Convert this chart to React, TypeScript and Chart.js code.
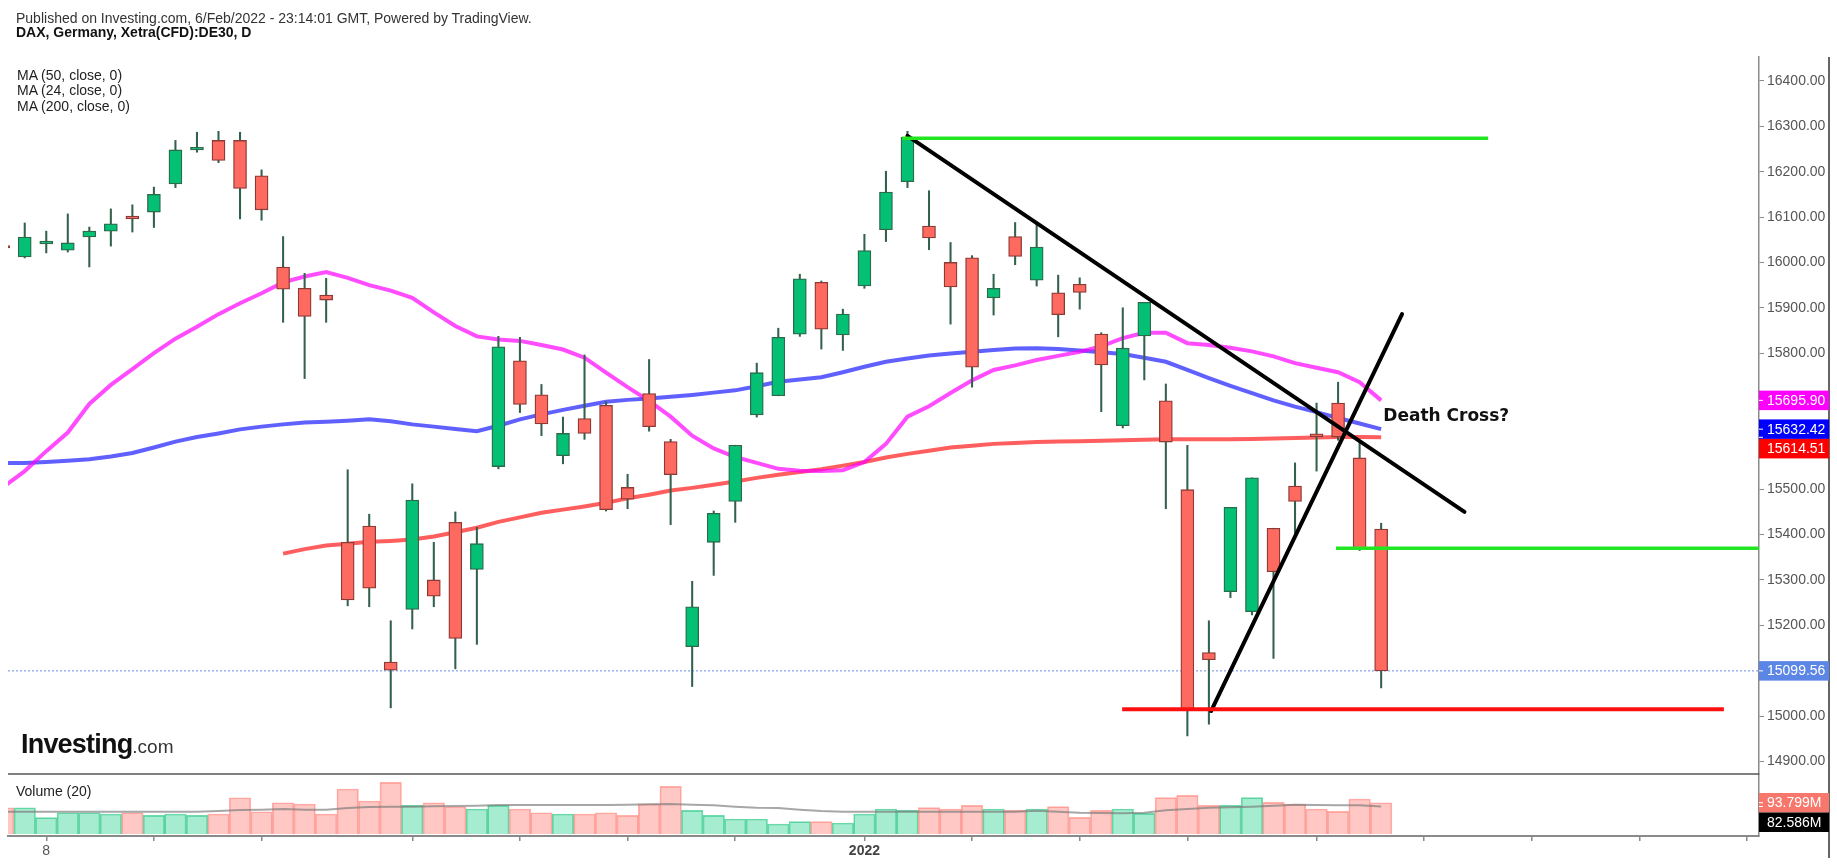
import React, { useEffect, useRef } from "react";
import { Chart, registerables } from "chart.js";

Chart.register(...registerables);

const FONT = '"Liberation Sans", Arial, sans-serif';
const W = 1837;
const H = 865;

// ---- daily candles (index 0 .. 64) ----
const OPEN = [
  16037, 16012, 16041, 16027, 16056, 16069, 16102, 16111, 16173, 16248,
  16269, 16269, 16191, 15990, 15943, 15928, 15383, 15419, 15119, 15235,
  15300, 15427, 15323, 15550, 15783, 15708, 15574, 15656, 15685, 15504,
  15711, 15605, 15153, 15383, 15473, 15664, 15706, 15842, 15956, 15840,
  15948, 16072, 16178, 16080, 16000, 16010, 15922, 16057, 15961, 15933,
  15952, 15842, 15640, 15838, 15695, 15499, 15140, 15274, 15230, 15414,
  15507, 15622, 15690, 15569, 15412,
];
const HIGH = [
  16040, 16087, 16069, 16107, 16078, 16118, 16127, 16166, 16269, 16287,
  16289, 16287, 16204, 16057, 15976, 15965, 15543, 15445, 15210, 15512,
  15383, 15450, 15416, 15837, 15835, 15731, 15659, 15796, 15693, 15533,
  15786, 15610, 15297, 15452, 15597, 15778, 15855, 15974, 15959, 15897,
  16062, 16201, 16289, 16158, 16044, 16015, 15974, 16088, 16088, 15972,
  15966, 15845, 15900, 15912, 15732, 15597, 15210, 15460, 15525, 15414,
  15558, 15690, 15736, 15604, 15425,
];
const LOW = [
  16028, 16010, 16021, 16023, 15990, 16036, 16067, 16077, 16165, 16243,
  16220, 16096, 16093, 15868, 15744, 15868, 15243, 15241, 15018, 15192,
  15241, 15104, 15158, 15545, 15669, 15618, 15556, 15610, 15452, 15457,
  15628, 15422, 15065, 15310, 15427, 15659, 15706, 15837, 15809, 15806,
  15943, 16046, 16165, 16028, 15864, 15725, 15884, 15995, 15948, 15836,
  15897, 15671, 15635, 15741, 15457, 14956, 14982, 15261, 15223, 15127,
  15403, 15540, 15608, 15365, 15062,
];
const CLOSE = [
  16032, 16056, 16047, 16043, 16069, 16085, 16096, 16150, 16248, 16254,
  16225, 16163, 16116, 15941, 15881, 15917, 15256, 15282, 15101, 15476,
  15264, 15171, 15380, 15814, 15687, 15644, 15623, 15623, 15455, 15478,
  15638, 15532, 15241, 15447, 15597, 15757, 15835, 15964, 15853, 15886,
  16026, 16155, 16276, 16054, 15946, 15769, 15943, 16013, 16034, 15885,
  15934, 15774, 15811, 15912, 15604, 15013, 15124, 15460, 15525, 15318,
  15473, 15616, 15615, 15370, 15099.56,
];

// ---- moving averages ----
const MA24 = [
  15505, 15540, 15584, 15625, 15688, 15730, 15765, 15800, 15832, 15858,
  15886, 15910, 15932, 15956, 15969, 15979, 15966, 15950, 15938, 15922,
  15890, 15860, 15837, 15830, 15827, 15818, 15808, 15790, 15757, 15725,
  15695, 15660, 15618, 15590, 15571, 15558, 15545, 15541, 15540, 15542,
  15560, 15600, 15660, 15683, 15712, 15740, 15763, 15773, 15785, 15794,
  15803, 15815, 15833, 15845, 15845, 15822, 15818, 15812, 15804, 15793,
  15778, 15768, 15758, 15736, 15695.9,
];
const MA50 = [
  15558, 15558, 15560, 15563, 15566, 15572, 15580, 15592, 15605, 15615,
  15623, 15632, 15638, 15643, 15647, 15649, 15651, 15654, 15650, 15643,
  15638, 15633, 15628, 15640, 15654, 15665, 15675, 15684, 15693, 15697,
  15700, 15704, 15708, 15713, 15718, 15727, 15737, 15742, 15747, 15758,
  15770, 15781, 15788, 15795, 15799, 15803, 15807, 15810, 15811, 15809,
  15806, 15802, 15798, 15790, 15781, 15763, 15745, 15728, 15712, 15696,
  15682, 15670, 15657, 15645, 15632.42,
];
const MA200_START = 13;
const MA200 = [
  15358, 15368, 15376, 15380, 15384, 15386, 15389, 15396, 15405, 15415,
  15428, 15438, 15448, 15455, 15462, 15470, 15480, 15488, 15497, 15503,
  15510, 15517, 15525, 15532, 15538, 15544, 15552, 15560, 15570, 15578,
  15585, 15592, 15596, 15600, 15602, 15604, 15605, 15606, 15607, 15608,
  15609, 15610, 15610, 15610, 15610, 15611, 15612, 15613, 15614, 15615,
  15615, 15614.51,
];

// ---- volume (millions) ----
const VOLUME = [
  78.8, 78.8, 48.9, 63.8, 63.8, 60, 63.8, 56, 60, 56,
  60, 108.8, 66.8, 93.8, 89.9, 60, 134.9, 98.9, 155, 86,
  93.8, 81.8, 75, 86, 75, 63.8, 60, 60, 63.8, 56,
  90, 143, 71, 56, 45, 45, 30, 37, 37, 33,
  60, 75, 71, 79, 75, 86, 75, 71, 75, 82,
  50, 71, 75, 62, 109, 116, 86, 86, 109, 95,
  90, 75, 68, 105, 93.799,
];
const VOLUME_MA = [
  66.8, 66.8, 66.8, 66.8, 66.8, 66.8, 66.8, 66.8, 66.8, 66.8,
  69, 72, 73, 75, 73, 73, 78, 81, 82, 82,
  83, 84, 85, 87, 87, 87, 87, 87, 87, 88,
  89, 90, 88, 86, 82, 79, 78, 73, 69, 67,
  67, 67, 67, 67, 67, 67, 67, 67, 70, 67,
  64, 63, 62, 64, 71, 75, 79, 80, 82, 85,
  88, 87, 86, 86, 82.586,
];

// ---- axes ----
const X_MIN = 0.223;
const X_MAX = 81.55;
const X_TICKS = [2, 7, 12, 19, 24, 29, 34, 40, 45, 50, 55, 61, 66, 71, 76, 81];
const X_TICK_LABELS: Record<number, string> = { 2: "8", 40: "2022" };
const Y_MIN = 14872.2;
const Y_MAX = 16452.9;
const Y_TICKS = [14900, 15000, 15200, 15300, 15400, 15500, 15800, 15900, 16000, 16100, 16200, 16300, 16400];
const VOL_MIN = -6;
const VOL_MAX = 180;

// ---- drawings ----
const RESIST_X = [41.75, 68.97];
const RESIST_Y = [16274, 16274];
const TREND_DOWN_X = [42.0, 67.87];
const TREND_DOWN_Y = [16279, 15450];
const TREND_UP_X = [56.1, 64.97];
const TREND_UP_Y = [15011, 15886];
const SUPPORT_G_X = [61.9, 81.55];
const SUPPORT_G_Y = [15370, 15370];
const SUPPORT_R_X = [51.97, 79.92];
const SUPPORT_R_Y = [15015, 15015];
const LAST_PRICE = 15099.56;
const NOTE_X = 64.1;
const NOTE_Y = 15661;
const NOTE_TEXT = "Death Cross?";

const PRICE_TAGS = [
  { v: 15695.9, bg: "#ff00ff" },
  { v: 15632.42, bg: "#0000ff" },
  { v: 15614.51, bg: "#ff0000" },
  { v: 15099.56, bg: "#5b86e5" },
];
const VOL_TAGS = [
  { v: 93.799, bg: "#f7776d" },
  { v: 82.586, bg: "#000000" },
];

const pts = (xs: number[], ys: number[]) => xs.map((x, i) => ({ x, y: ys[i] }));

export default function App() {
  const ref = useRef<HTMLCanvasElement>(null);

  useEffect(() => {
    const canvas = ref.current!;
    const idx = OPEN.map((_, i) => i);
    const up = idx.map((i) => CLOSE[i] >= OPEN[i]);

    const overlay = {
      id: "overlay",
      afterDraw(chart: any) {
        const { ctx, chartArea, scales } = chart;
        const y = scales.y;
        const yv = scales.yv;
        const x = scales.x;
        ctx.save();
        // pane separator
        ctx.strokeStyle = "#555";
        ctx.lineWidth = 1.5;
        ctx.beginPath();
        ctx.moveTo(chartArea.left, y.bottom);
        ctx.lineTo(chartArea.right, y.bottom);
        ctx.stroke();
        // right frame
        const frameX = chartArea.right + 70;
        ctx.strokeStyle = "#333";
        ctx.beginPath();
        ctx.moveTo(frameX, chartArea.top);
        ctx.lineTo(frameX, chartArea.bottom + 22);
        ctx.stroke();

        // annotation text
        ctx.fillStyle = "#111";
        ctx.font = 'bold 17px "DejaVu Sans", Verdana, sans-serif';
        ctx.textAlign = "left";
        ctx.textBaseline = "middle";
        ctx.fillText(NOTE_TEXT, x.getPixelForValue(NOTE_X), y.getPixelForValue(NOTE_Y));

        // axis tags
        const drawTags = (tags: { v: number; bg: string }[], scale: any, fmt: (v: number) => string) => {
          const h = 19.5;
          const list = tags
            .map((t) => ({ ...t, c: scale.getPixelForValue(t.v) }))
            .sort((a, b) => a.c - b.c);
          let prevBottom = -1e9;
          for (const t of list) {
            let top = t.c - h / 2;
            if (top < prevBottom) top = prevBottom;
            ctx.fillStyle = t.bg;
            ctx.fillRect(chartArea.right, top, 70, h);
            ctx.strokeStyle = "#fff";
            ctx.lineWidth = 1;
            ctx.beginPath();
            ctx.moveTo(chartArea.right, t.c);
            ctx.lineTo(chartArea.right + 4, t.c);
            ctx.stroke();
            ctx.fillStyle = "#fff";
            ctx.font = `14px ${FONT}`;
            ctx.textBaseline = "middle";
            ctx.fillText(fmt(t.v), chartArea.right + 8, top + h / 2 + 0.5);
            prevBottom = top + h;
          }
        };
        drawTags(PRICE_TAGS, y, (v) => v.toFixed(2));
        drawTags(VOL_TAGS, yv, (v) => v.toFixed(3) + "M");
        ctx.restore();
      },
    };

    const lineDs = (data: any[], color: string, width: number, order: number, extra: any = {}) => ({
      type: "line",
      data,
      borderColor: color,
      borderWidth: width,
      pointRadius: 0,
      tension: 0,
      fill: false,
      order,
      yAxisID: "y",
      ...extra,
    });

    const chart = new Chart(canvas, {
      type: "bar",
      data: {
        datasets: [
          // annotations on top
          lineDs(pts(RESIST_X, RESIST_Y), "#22e622", 3.5, 0),
          lineDs(pts(SUPPORT_G_X, SUPPORT_G_Y), "#22e622", 3.5, 0),
          lineDs(pts(SUPPORT_R_X, SUPPORT_R_Y), "#ff1010", 4, 0),
          lineDs(pts(TREND_DOWN_X, TREND_DOWN_Y), "#000000", 4, 0, { borderCapStyle: "round" }),
          lineDs(pts(TREND_UP_X, TREND_UP_Y), "#000000", 4, 0, { borderCapStyle: "round" }),
          // candle bodies
          {
            type: "bar",
            data: idx.map((i) => ({ x: i, y: [OPEN[i], CLOSE[i]] })),
            backgroundColor: idx.map((i) => (up[i] ? "#03c074" : "#ff6a60")),
            borderColor: idx.map((i) => (up[i] ? "#2b6a4b" : "#8c3a35")),
            borderWidth: 1.3,
            borderSkipped: false,
            barThickness: 13,
            grouped: false,
            order: 1,
            yAxisID: "y",
          },
          // wicks
          {
            type: "bar",
            data: idx.map((i) => ({ x: i, y: [LOW[i], HIGH[i]] })),
            backgroundColor: "#33624c",
            borderWidth: 0,
            barThickness: 1.4,
            grouped: false,
            order: 2,
            yAxisID: "y",
          },
          // moving averages
          lineDs(idx.map((i) => ({ x: i, y: MA24[i] })), "rgba(255,0,255,0.7)", 4, 3),
          lineDs(idx.map((i) => ({ x: i, y: MA50[i] })), "rgba(20,20,255,0.68)", 4, 3),
          lineDs(MA200.map((v, k) => ({ x: k + MA200_START, y: v })), "rgba(255,10,10,0.66)", 4, 3),
          // last price
          lineDs(pts([X_MIN, X_MAX], [LAST_PRICE, LAST_PRICE]), "rgba(70,110,225,0.8)", 1, 6, {
            borderDash: [2, 2],
          }),
          // volume MA
          lineDs(idx.map((i) => ({ x: i, y: VOLUME_MA[i] })), "rgba(120,120,120,0.65)", 2, 4, { yAxisID: "yv" }),
          // volume
          {
            type: "bar",
            data: idx.map((i) => ({ x: i, y: VOLUME[i] })),
            backgroundColor: idx.map((i) => (up[i] ? "rgba(0,200,120,0.35)" : "rgba(255,110,100,0.38)")),
            borderColor: idx.map((i) => (up[i] ? "rgba(0,185,105,0.55)" : "rgba(255,100,90,0.5)")),
            borderWidth: 1,
            borderSkipped: "bottom",
            barThickness: 21.5,
            grouped: false,
            order: 5,
            yAxisID: "yv",
          },
        ] as any,
      },
      options: {
        responsive: false,
        animation: false,
        events: [],
        layout: { padding: { left: 8, top: 57, right: 0, bottom: 0 } },
        plugins: {
          legend: { display: false },
          tooltip: { enabled: false },
          title: { display: false },
        },
        scales: {
          x: {
            type: "linear",
            position: "bottom",
            min: X_MIN,
            max: X_MAX,
            offset: false,
            grid: {
              display: true,
              drawOnChartArea: false,
              drawTicks: true,
              tickLength: 5,
              color: "#8a8a8a",
              lineWidth: 1.5,
              offset: false,
            },
            border: { display: true, color: "#8a8a8a", width: 2 },
            afterBuildTicks: (s: any) => {
              s.ticks = X_TICKS.map((v) => ({ value: v }));
            },
            afterFit: (s: any) => {
              s.height = H - 836;
            },
            ticks: {
              autoSkip: false,
              maxRotation: 0,
              padding: 2,
              callback: (v: any) => X_TICK_LABELS[v as number] ?? "",
              color: (c: any) => (c.tick && c.tick.value === 40 ? "#444" : "#555"),
              font: (c: any) => ({
                family: FONT,
                size: 14,
                weight: c.tick && c.tick.value === 40 ? "bold" : "normal",
              }),
            },
          },
          y: {
            type: "linear",
            position: "right",
            stack: "pane",
            stackWeight: 717,
            min: Y_MIN,
            max: Y_MAX,
            grid: { display: true, drawOnChartArea: false, tickLength: 5, color: "#8a8a8a", lineWidth: 1 },
            border: { display: true, color: "#8a8a8a", width: 1.5 },
            afterBuildTicks: (s: any) => {
              s.ticks = Y_TICKS.map((v) => ({ value: v }));
            },
            afterFit: (s: any) => {
              s.width = 78;
            },
            ticks: {
              autoSkip: false,
              padding: 3,
              color: "#555",
              font: { family: FONT, size: 14 },
              callback: (v: any) => Number(v).toFixed(2),
            },
          },
          yv: {
            type: "linear",
            position: "right",
            stack: "pane",
            stackWeight: 62,
            min: VOL_MIN,
            max: VOL_MAX,
            grid: { display: false },
            border: { display: true, color: "#8a8a8a", width: 1.5 },
            ticks: { display: false },
            afterFit: (s: any) => {
              s.width = 78;
            },
          },
        },
      } as any,
      plugins: [overlay],
    });
    return () => chart.destroy();
  }, []);

  const txt = (top: number, left: number, extra: React.CSSProperties = {}) => ({
    position: "absolute" as const,
    top,
    left,
    fontFamily: FONT,
    fontSize: 14,
    lineHeight: "15px",
    color: "#222",
    whiteSpace: "nowrap" as const,
    ...extra,
  });

  return (
    <div style={{ position: "fixed", left: 0, top: 0, width: W, height: H, background: "#fff", overflow: "hidden" }}>
      <canvas ref={ref} width={W} height={H} style={{ position: "absolute", left: 0, top: 0, width: W, height: H }} />
      <div style={txt(10.5, 16, { color: "#333" })}>
        Published on Investing.com, 6/Feb/2022 - 23:14:01 GMT, Powered by TradingView.
      </div>
      <div style={txt(24.5, 16, { fontWeight: "bold", color: "#111" })}>DAX, Germany, Xetra(CFD):DE30, D</div>
      <div style={txt(67.5, 17)}>MA (50, close, 0)</div>
      <div style={txt(82.5, 17)}>MA (24, close, 0)</div>
      <div style={txt(98.5, 17)}>MA (200, close, 0)</div>
      <div style={txt(783.5, 16)}>Volume (20)</div>
      <div style={{ position: "absolute", left: 21, top: 731, whiteSpace: "nowrap", fontFamily: FONT, lineHeight: "26px" }}>
        <span style={{ fontSize: 27, fontWeight: "bold", color: "#111", letterSpacing: "-0.8px" }}>Investing</span>
        <span style={{ fontSize: 19, color: "#333" }}>.com</span>
      </div>
    </div>
  );
}
